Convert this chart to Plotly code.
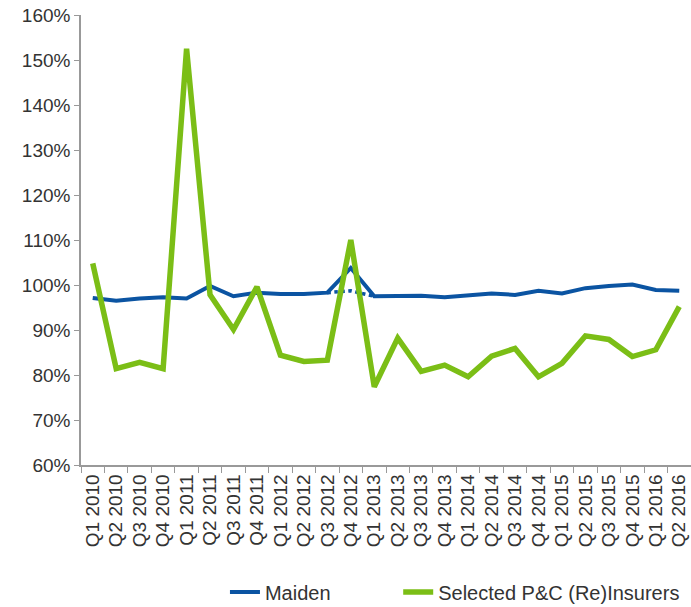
import plotly.graph_objects as go

quarters = ["Q1 2010","Q2 2010","Q3 2010","Q4 2010","Q1 2011","Q2 2011","Q3 2011","Q4 2011",
            "Q1 2012","Q2 2012","Q3 2012","Q4 2012","Q1 2013","Q2 2013","Q3 2013","Q4 2013",
            "Q1 2014","Q2 2014","Q3 2014","Q4 2014","Q1 2015","Q2 2015","Q3 2015","Q4 2015",
            "Q1 2016","Q2 2016"]
maiden = [97.1, 96.5, 97.0, 97.3, 97.0, 99.8, 97.5, 98.3, 98.0, 98.0, 98.3, 103.8, 97.5,
          97.6, 97.6, 97.3, 97.8, 98.1, 97.8, 98.7, 98.1, 99.3, 99.8, 100.1, 98.9, 98.7]
selected = [104.8, 81.4, 82.8, 81.4, 152.5, 97.8, 90.1, 99.6, 84.4, 83.0, 83.3, 110.0, 77.4,
            88.2, 80.8, 82.2, 79.6, 84.2, 85.9, 79.6, 82.6, 88.7, 87.9, 84.1, 85.6, 95.2]
dotted_q = ["Q3 2012", "Q4 2012", "Q1 2013"]
dotted_v = [98.3, 98.7, 97.5]
y_ticks = [60, 70, 80, 90, 100, 110, 120, 130, 140, 150, 160]

BLUE = "#0B54A2"
GREEN = "#7BBE16"
FONT = "Liberation Sans, Arial, sans-serif"

fig = go.Figure()
fig.add_trace(go.Scatter(x=quarters, y=maiden, mode="lines", name="Maiden",
                         line=dict(color=BLUE, width=4), legend="legend"))
fig.add_trace(go.Scatter(x=dotted_q, y=dotted_v, mode="lines", showlegend=False,
                         line=dict(color=BLUE, width=3.5, dash="dot")))
fig.add_trace(go.Scatter(x=quarters, y=selected, mode="lines", name="Selected P&C (Re)Insurers",
                         line=dict(color=GREEN, width=5.5), legend="legend2"))

leg_common = dict(orientation="h", xanchor="left", y=-0.282, yanchor="middle",
                  font=dict(size=20, color="#333333"), bgcolor="rgba(0,0,0,0)")

fig.update_layout(
    width=691, height=607,
    margin=dict(l=81, r=0, t=15, b=142, autoexpand=False),
    paper_bgcolor="white", plot_bgcolor="white",
    font=dict(family=FONT, size=19, color="#333333"),
    showlegend=True,
    legend=dict(x=0.236, **leg_common),
    legend2=dict(x=0.52, **leg_common),
    xaxis=dict(type="category", range=[-0.5, 25.5], tickangle=-90, showgrid=False,
               tickmode="array", tickvals=quarters, ticktext=quarters,
               showline=True, linecolor="#999999", linewidth=1.5,
               ticks="outside", tickson="boundaries", ticklen=6, tickcolor="#999999",
               tickfont=dict(size=19)),
    yaxis=dict(range=[60, 160], tickvals=y_ticks, ticktext=[f"{v}%" for v in y_ticks],
               showgrid=False, zeroline=False, showline=True, linecolor="#999999", linewidth=1.5,
               ticks="outside", ticklen=5, tickcolor="#999999", tickfont=dict(size=19)),
)
fig.write_html("out.html")
